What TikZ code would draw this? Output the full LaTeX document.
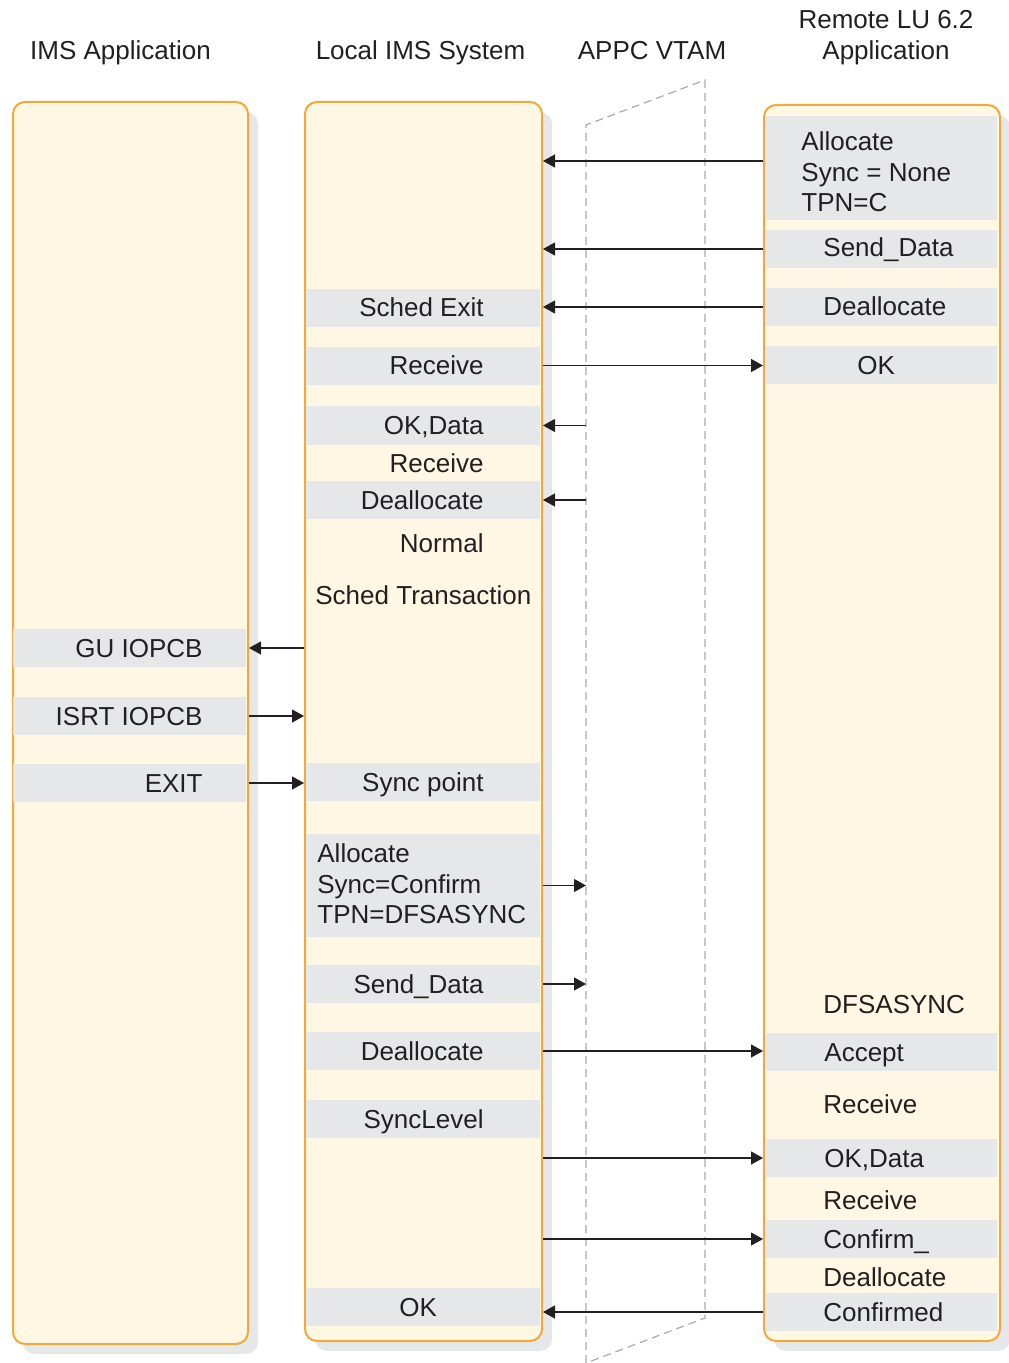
\documentclass[tikz,border=0pt]{standalone}
\usepackage{fontspec}
\setmainfont{Liberation Sans}
\usetikzlibrary{calc}
\usetikzlibrary{arrows.meta}
\usetikzlibrary{shadows}

\definecolor{laneorange}{HTML}{F2A93B}
\definecolor{lanecream}{HTML}{FEF7E3}
\definecolor{bandgray}{HTML}{E6E7E8}
\definecolor{inkblack}{HTML}{231F20}
\definecolor{vtamgray}{HTML}{A7A9AC}

\tikzset{
  lane/.style={draw=laneorange, line width=1pt, fill=lanecream, rounded corners=6pt,
    anchor=north west, inner sep=0pt,
    drop shadow={shadow xshift=5pt, shadow yshift=-5pt, opacity=1, fill=bandgray, draw=none}},
  band/.style={fill=bandgray, inner sep=0pt, minimum height=19pt, anchor=west},
  aband/.style={band, minimum width=116.5pt},
  mband/.style={band, minimum width=117pt},
  rband/.style={band, minimum width=116pt},
  lbl/.style={text=inkblack, inner sep=0pt, font=\fontsize{13}{15.25}\selectfont},
  msg/.style={inkblack, line width=0.65pt, -{Triangle[length=6pt,width=6.5pt]}},
}

\begin{document}
\begin{tikzpicture}[x=0.5pt, y=-0.5pt]
\useasboundingbox (0,0) rectangle (1008,1363);

\node[lbl, anchor=base] (hApp) at (120.5,60) {IMS Application};
\node[lbl, anchor=base] (hLoc) at (420.5,60) {Local IMS System};
\node[lbl, anchor=base] (hVtam) at (652,60) {APPC VTAM};
\node[lbl, anchor=north, align=center, font=\fontsize{13}{15.5}\selectfont] (hRem) at (886,10.4) {Remote LU 6.2\\Application};

\draw[vtamgray, line width=0.6pt, dash pattern=on 4pt off 2.5pt] (586,1363) -- (586,125) -- (705,80) -- (705,1318) -- cycle;
\coordinate (vtam) at (586,125);

\node[lane, minimum width=117.5pt, minimum height=621pt] (imsapp) at (12,101) {};
\node[lane, minimum width=118.5pt, minimum height=619.5pt] (locsys) at (304,101) {};
\node[lane, minimum width=118pt, minimum height=618pt] (remote) at (763,104) {};

\node[aband] (aGU) at (13,648) {};
\node[aband] (aISRT) at (13,716) {};
\node[aband] (aExit) at (13,783) {};

\node[mband] (mSched) at (305.5,308.5) {};
\node[mband] (mRecv) at (305.5,366) {};
\node[mband] (mOKData) at (305.5,425.5) {};
\node[mband] (mDealloc) at (305.5,500) {};
\node[mband] (mSync) at (305.5,782) {};
\node[mband, minimum height=51.5pt] (mAlloc) at (305.5,885.5) {};
\node[mband] (mSend) at (305.5,984) {};
\node[mband] (mDeallocB) at (305.5,1051) {};
\node[mband] (mLevel) at (305.5,1119) {};
\node[mband] (mOK) at (305.5,1307) {};

\node[rband, minimum height=52pt] (rAlloc) at (765,168) {};
\node[rband] (rSend) at (765,249) {};
\node[rband] (rDealloc) at (765,307) {};
\node[rband] (rOK) at (765,365.5) {};
\node[rband] (rAccept) at (765,1052) {};
\node[rband] (rOKData) at (765,1158) {};
\node[rband] (rConfirm) at (765,1239) {};
\node[rband] (rConfirmed) at (765,1312) {};

\node[lbl, anchor=base east] (tGU) at (203,657) {GU IOPCB};
\node[lbl, anchor=base east] (tISRT) at (203,725) {ISRT IOPCB};
\node[lbl, anchor=base east] (tExit) at (203,792) {EXIT};

\node[lbl, anchor=base east] (tSched) at (484,317) {Sched Exit};
\node[lbl, anchor=base east] (tRecv) at (484,375) {Receive};
\node[lbl, anchor=base east] (tOKData) at (484,435) {OK,Data};
\node[lbl, anchor=base east] (tRecvB) at (484,472) {Receive};
\node[lbl, anchor=base east] (tDealloc) at (484,509) {Deallocate};
\node[lbl, anchor=base east] (tNormal) at (484,552) {Normal};
\node[lbl, anchor=base west] (tTrans) at (315,604) {Sched Transaction};
\node[lbl, anchor=base east] (tSync) at (484,791) {Sync point};
\node[lbl, anchor=north west, align=left] (tAlloc) at (317,843.4) {Allocate\\Sync=Confirm\\TPN=DFSASYNC};
\node[lbl, anchor=base east] (tSend) at (484,993) {Send\_Data};
\node[lbl, anchor=base east] (tDeallocB) at (484,1060) {Deallocate};
\node[lbl, anchor=base east] (tLevel) at (484,1128) {SyncLevel};
\node[lbl, anchor=base west] (tOK) at (399,1316) {OK};

\node[lbl, anchor=north west, align=left] (uAlloc) at (801,131.4) {Allocate\\Sync = None\\TPN=C};
\node[lbl, anchor=base west] (uSend) at (823,257) {Send\_Data};
\node[lbl, anchor=base west] (uDealloc) at (823,316) {Deallocate};
\node[lbl, anchor=base west] (uOK) at (857,375) {OK};
\node[lbl, anchor=base west] (uAsync) at (823,1013) {DFSASYNC};
\node[lbl, anchor=base west] (uAccept) at (824,1061) {Accept};
\node[lbl, anchor=base west] (uRecv) at (823,1113) {Receive};
\node[lbl, anchor=base west] (uOKData) at (824,1167) {OK,Data};
\node[lbl, anchor=base west] (uRecvB) at (823,1209) {Receive};
\node[lbl, anchor=base west] (uConfirm) at (823,1248) {Confirm\_};
\node[lbl, anchor=base west] (uDeallocB) at (823,1286) {Deallocate};
\node[lbl, anchor=base west] (uConfirmed) at (823,1321) {Confirmed};

\draw[msg] ($(remote.west |- rAlloc)+(0,-7)$) -- ($(locsys.east |- rAlloc)+(0,-7)$);
\draw[msg] (remote.west |- rSend) -- (locsys.east |- rSend);
\draw[msg] (remote.west |- rDealloc) -- (locsys.east |- rDealloc);
\draw[msg] (locsys.east |- rOK) -- (remote.west |- rOK);
\draw[msg] (vtam |- mOKData) -- (locsys.east |- mOKData);
\draw[msg] (vtam |- mDealloc) -- (locsys.east |- mDealloc);
\draw[msg] (locsys.west |- aGU) -- (imsapp.east |- aGU);
\draw[msg] (imsapp.east |- aISRT) -- (locsys.west |- aISRT);
\draw[msg] (imsapp.east |- aExit) -- (locsys.west |- aExit);
\draw[msg] (locsys.east |- mAlloc) -- (vtam |- mAlloc);
\draw[msg] (locsys.east |- mSend) -- (vtam |- mSend);
\draw[msg] (locsys.east |- mDeallocB) -- (remote.west |- mDeallocB);
\draw[msg] (locsys.east |- rOKData) -- (remote.west |- rOKData);
\draw[msg] (locsys.east |- rConfirm) -- (remote.west |- rConfirm);
\draw[msg] (remote.west |- rConfirmed) -- (locsys.east |- rConfirmed);

\end{tikzpicture}
\end{document}
